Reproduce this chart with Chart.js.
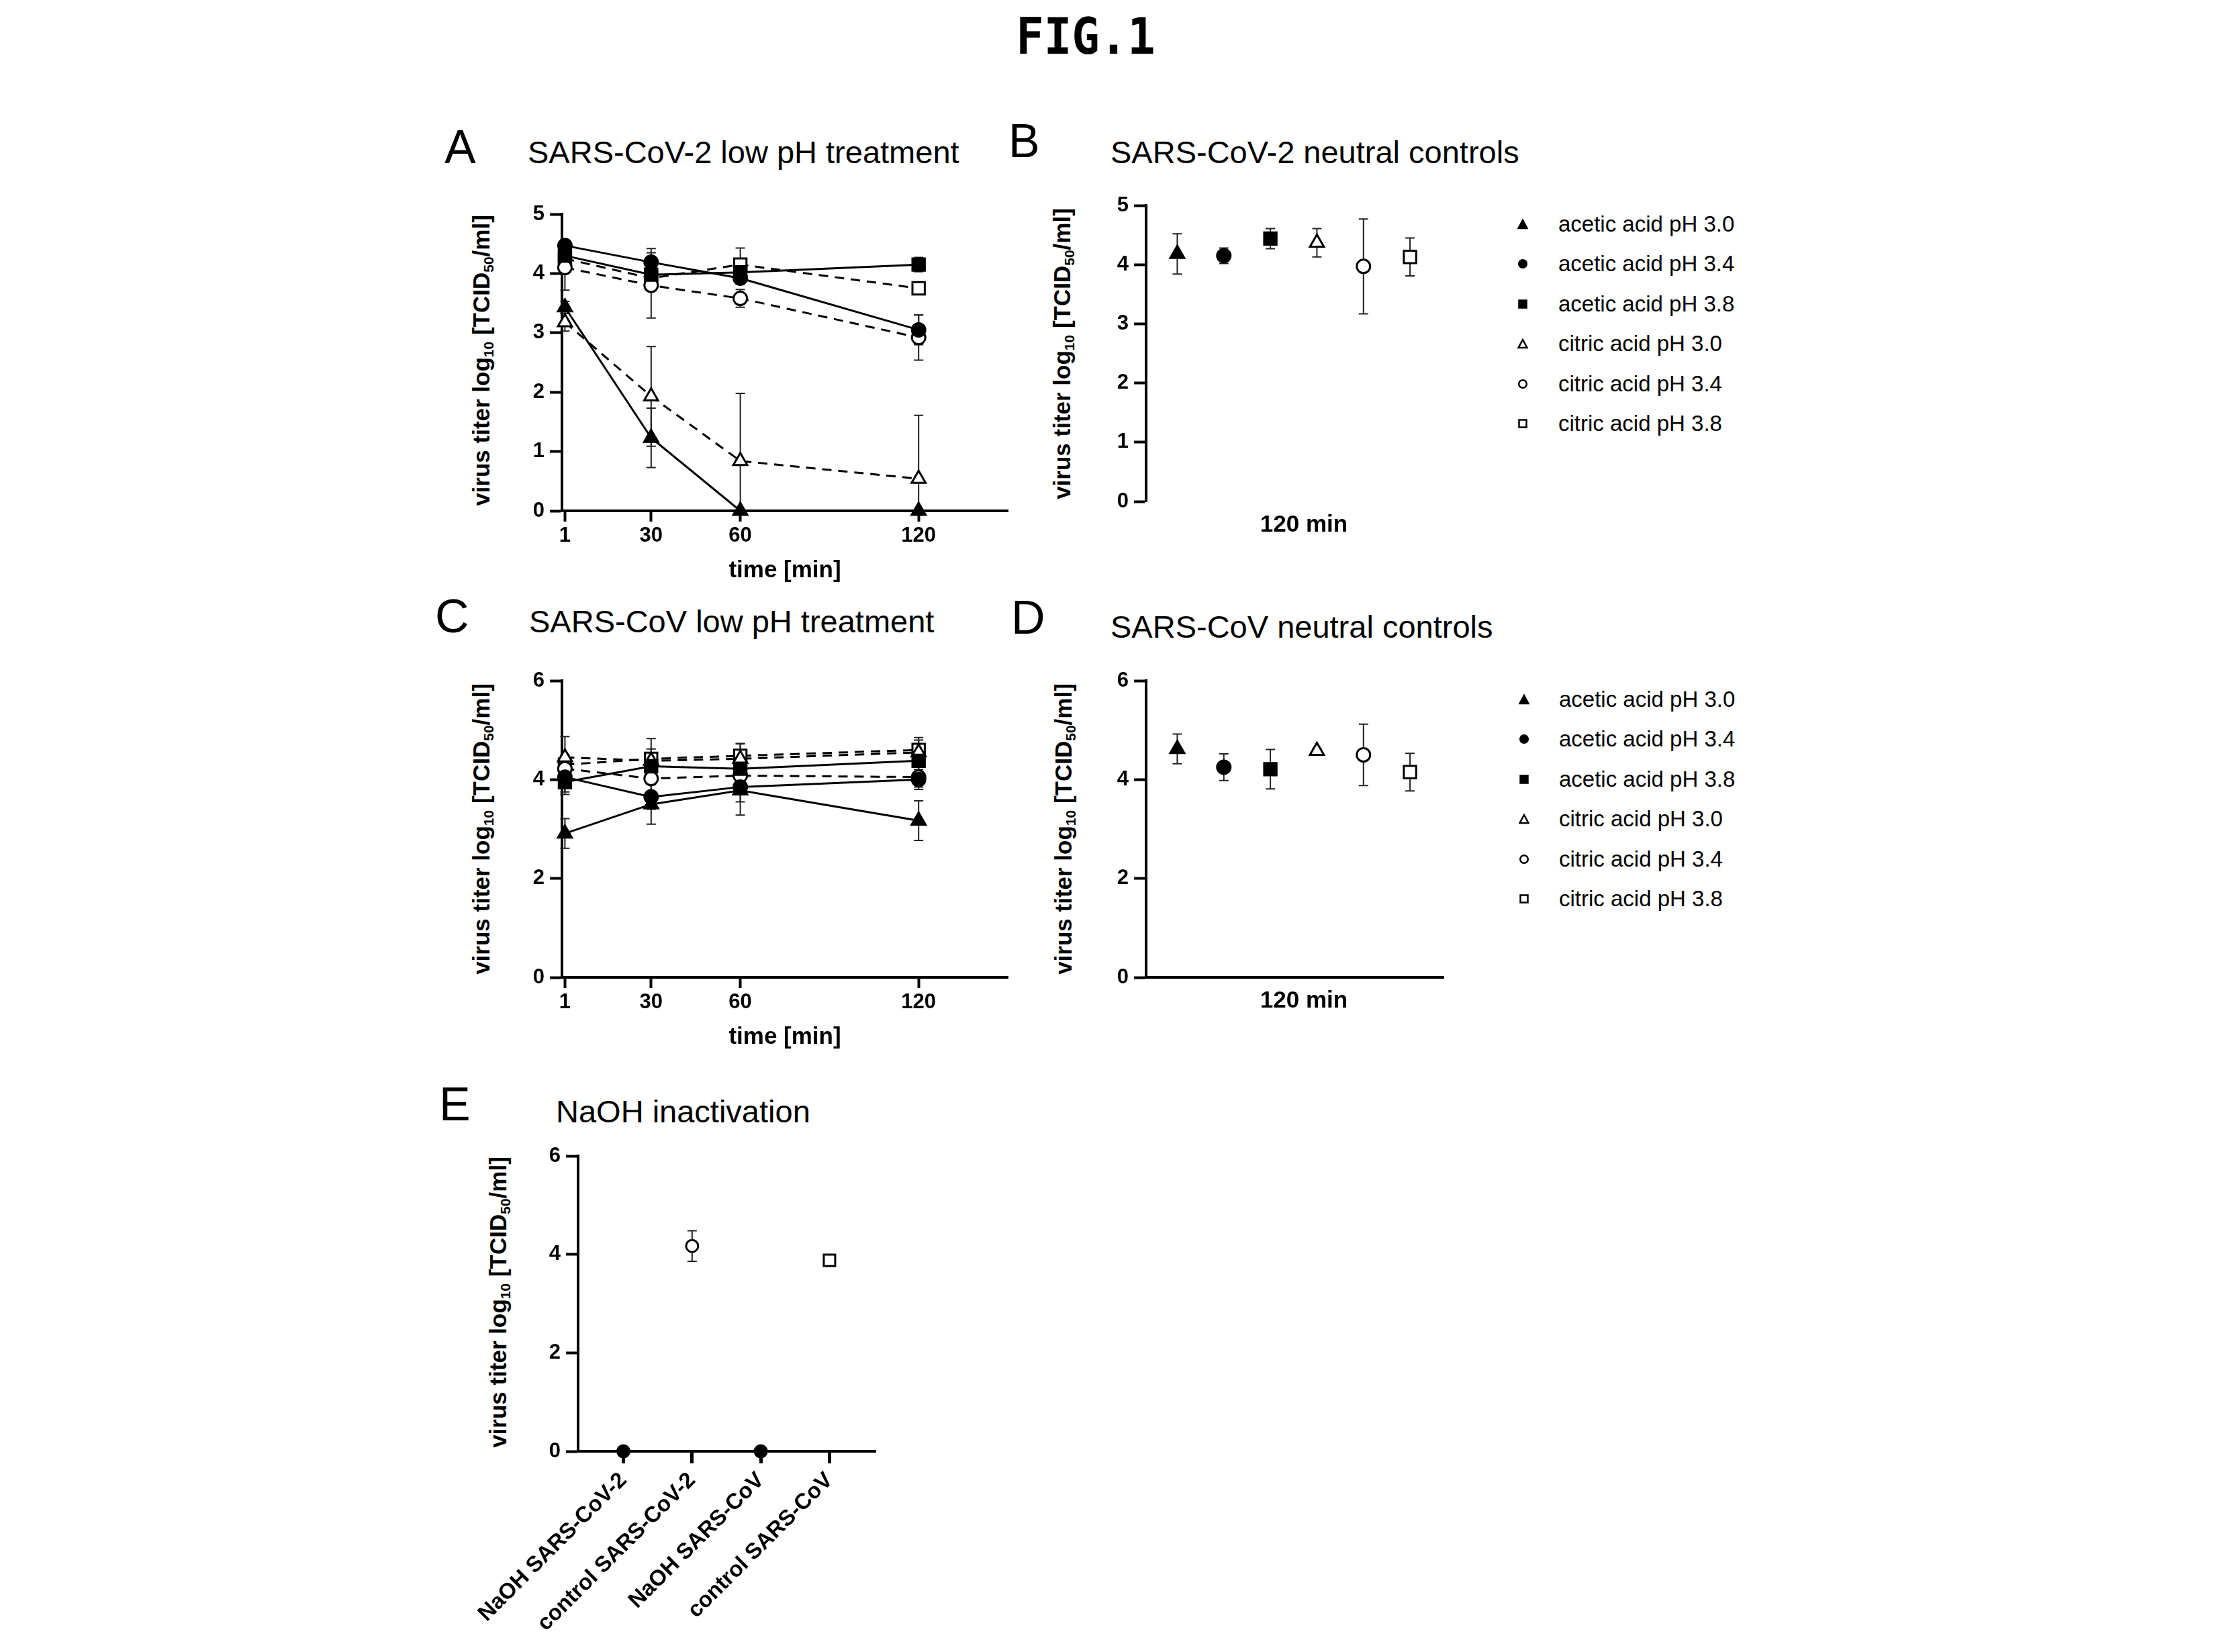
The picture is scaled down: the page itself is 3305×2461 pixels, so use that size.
<!DOCTYPE html>
<html><head><meta charset="utf-8">
<script src="https://cdn.jsdelivr.net/npm/chart.js@4.4.1/dist/chart.umd.min.js"></script>
<style>
html,body{margin:0;padding:0;background:#fff;}
body{width:3305px;height:2461px;position:relative;overflow:hidden;font-family:"Liberation Sans",Arial,sans-serif;color:#000;}
.t{position:absolute;white-space:nowrap;line-height:1;}
.letter{font-size:70px;}
.ttl{font-size:47px;}
.yt{position:absolute;white-space:nowrap;line-height:1;font-weight:bold;font-size:35px;transform:translate(-50%,-50%) rotate(-90deg);}
.sb{font-size:0.6em;position:relative;top:0.28em;}
.lg{position:absolute;white-space:nowrap;font-size:33px;line-height:40px;}
canvas{position:absolute;}
</style></head><body>
<div class="t" style="left:1617px;top:17px;font-family:'DejaVu Sans Mono',monospace;font-weight:bold;font-size:75px;transform:translateX(-50%) scaleX(0.92);">FIG.1</div>

<div class="t letter" style="left:662px;top:184px;">A</div>
<div class="t ttl" style="left:786px;top:203px;">SARS-CoV-2 low pH treatment</div>
<div class="t letter" style="left:1502px;top:175px;">B</div>
<div class="t ttl" style="left:1654px;top:203px;">SARS-CoV-2 neutral controls</div>
<div class="t letter" style="left:648px;top:883px;">C</div>
<div class="t ttl" style="left:788px;top:902px;">SARS-CoV low pH treatment</div>
<div class="t letter" style="left:1506px;top:885px;">D</div>
<div class="t ttl" style="left:1654px;top:910px;">SARS-CoV neutral controls</div>
<div class="t letter" style="left:654px;top:1610px;">E</div>
<div class="t ttl" style="left:828px;top:1632px;">NaOH inactivation</div>

<div class="yt" style="left:716px;top:537px;">virus titer log<span class="sb">10</span> [TCID<span class="sb">50</span>/ml]</div>
<div class="yt" style="left:1581px;top:527px;">virus titer log<span class="sb">10</span> [TCID<span class="sb">50</span>/ml]</div>
<div class="yt" style="left:716px;top:1235px;">virus titer log<span class="sb">10</span> [TCID<span class="sb">50</span>/ml]</div>
<div class="yt" style="left:1583px;top:1235px;">virus titer log<span class="sb">10</span> [TCID<span class="sb">50</span>/ml]</div>
<div class="yt" style="left:741px;top:1940px;">virus titer log<span class="sb">10</span> [TCID<span class="sb">50</span>/ml]</div>

<script>
// ---------------- DATA ----------------
const timePoints = [1, 30, 60, 120];
const seriesNames = ['acetic acid pH 3.0','acetic acid pH 3.4','acetic acid pH 3.8','citric acid pH 3.0','citric acid pH 3.4','citric acid pH 3.8'];

// Panel A: SARS-CoV-2 low pH treatment (mean, SD)
const cov2Acetic30 = [3.43, 1.23, 0, 0];
const cov2Acetic30Err = [0.1, 0.5, 0, 0];
const cov2Acetic34 = [4.47, 4.19, 3.92, 3.05];
const cov2Acetic34Err = [0.1, 0.23, 0.1, 0.25];
const cov2Acetic38 = [4.30, 3.98, 4.02, 4.15];
const cov2Acetic38Err = [0.15, 0.1, 0.1, 0.12];
const cov2Citric30 = [3.18, 1.93, 0.84, 0.54];
const cov2Citric30Err = [0.15, 0.84, 1.14, 1.07];
const cov2Citric34 = [4.10, 3.80, 3.58, 2.92];
const cov2Citric34Err = [0.38, 0.55, 0.15, 0.38];
const cov2Citric38 = [4.25, 3.92, 4.15, 3.75];
const cov2Citric38Err = [0.15, 0.1, 0.28, 0.1];

// Panel B: SARS-CoV-2 neutral controls at 120 min
const cov2Controls = [4.18, 4.15, 4.44, 4.37, 3.97, 4.13];
const cov2ControlsErr = [0.34, 0.13, 0.17, 0.24, 0.8, 0.32];

// Panel C: SARS-CoV low pH treatment
const covAcetic30 = [2.91, 3.50, 3.78, 3.17];
const covAcetic30Err = [0.3, 0.4, 0.5, 0.4];
const covAcetic34 = [4.05, 3.65, 3.85, 4.00];
const covAcetic34Err = [0.35, 0.25, 0.3, 0.2];
const covAcetic38 = [3.95, 4.27, 4.22, 4.38];
const covAcetic38Err = [0.2, 0.2, 0.25, 0.3];
const covCitric30 = [4.45, 4.38, 4.42, 4.55];
const covCitric30Err = [0.42, 0.45, 0.3, 0.3];
const covCitric34 = [4.22, 4.02, 4.08, 4.05];
const covCitric34Err = [0.2, 0.3, 0.2, 0.2];
const covCitric38 = [4.30, 4.42, 4.48, 4.60];
const covCitric38Err = [0.2, 0.2, 0.25, 0.2];

// Panel D: SARS-CoV neutral controls at 120 min
const covControls = [4.62, 4.25, 4.21, 4.58, 4.50, 4.15];
const covControlsErr = [0.3, 0.27, 0.4, 0.05, 0.62, 0.38];

// Panel E: NaOH inactivation
const naohCategories = ['NaOH SARS-CoV-2','control SARS-CoV-2','NaOH SARS-CoV','control SARS-CoV'];
const naohValues = [0, 4.17, 0, 3.88];
const naohErr = [0, 0.31, 0, 0.04];

// ---------------- STYLE / LAYOUT ----------------
const FONT = "'Liberation Sans', Arial, sans-serif";
Chart.defaults.font.family = FONT;
Chart.defaults.color = '#000';
const seriesStyles = [
  {shape:'triangle', filled:true,  dashed:false},
  {shape:'circle',   filled:true,  dashed:false},
  {shape:'rect',     filled:true,  dashed:false},
  {shape:'triangle', filled:false, dashed:true},
  {shape:'circle',   filled:false, dashed:true},
  {shape:'rect',     filled:false, dashed:true}
];
const markerRadius = {triangle:12, circle:10, rect:13};
const naohShapes = ['circle','circle','circle','rect'];
const naohFilled = [true, false, true, false];
const naohRadius = {circle:9, rect:12};

const PAD = {l:200, t:40, r:40, b:10};
const areaA = {l:837, t:319, r:1501, b:761, yW:80, xH:140};
const areaC = {l:837, t:1014, r:1501, b:1456, yW:80, xH:140};
const areaB = {l:1707, t:306, r:2150, b:747, yW:80, xH:80};
const areaD = {l:1707, t:1014, r:2150, b:1456, yW:80, xH:80};
const areaE = {l:861, t:1722, r:1304, b:2162, yW:80, xH:300};
const legendB = {mx:2268, tx:2321, rows:[334, 393, 453, 512, 572, 631]};
const legendD = {mx:2270, tx:2322, rows:[1042, 1101, 1161, 1220, 1280, 1339]};

function mount(a) {
  const c = document.createElement('canvas');
  const left = a.l - a.yW - PAD.l, top = a.t - PAD.t;
  const w = a.r + PAD.r - left, h = a.b + a.xH + PAD.b - top;
  c.width = w; c.height = h;
  c.style.left = left + 'px'; c.style.top = top + 'px';
  c.style.width = w + 'px'; c.style.height = h + 'px';
  document.body.appendChild(c);
  return c;
}

const errorBars = {
  id: 'errorBars',
  beforeDatasetsDraw(chart) {
    const ctx = chart.ctx, ys = chart.scales.y;
    chart.data.datasets.forEach((ds, di) => {
      if (!ds.errors) return;
      const meta = chart.getDatasetMeta(di);
      meta.data.forEach((pt, i) => {
        const e = ds.errors[i];
        if (!e) return;
        const v = ds.data[i].y;
        const x = pt.x;
        const y1 = ys.getPixelForValue(v + e), y2 = ys.getPixelForValue(Math.max(0, v - e));
        ctx.save();
        ctx.strokeStyle = '#222'; ctx.lineWidth = 2;
        ctx.beginPath();
        ctx.moveTo(x, y1); ctx.lineTo(x, y2);
        ctx.moveTo(x - 7, y1); ctx.lineTo(x + 7, y1);
        ctx.moveTo(x - 7, y2); ctx.lineTo(x + 7, y2);
        ctx.stroke();
        ctx.restore();
      });
    });
  }
};

function yAxis(a, max, step) {
  return {
    type:'linear', position:'left', min:0, max:max,
    ticks:{stepSize:step, color:'#000', font:{size:31, weight:'bold'}, padding:8},
    grid:{drawOnChartArea:false, drawTicks:true, tickLength:18, tickWidth:4, tickColor:'#000'},
    border:{display:true, color:'#000', width:4},
    afterFit(s){ s.width = a.yW; }
  };
}

function timeAxis(a) {
  return {
    type:'linear', position:'bottom', min:0, max:150,
    afterBuildTicks(s){ s.ticks = timePoints.map(v => ({value:v})); },
    ticks:{color:'#000', font:{size:31, weight:'bold'}, padding:3, autoSkip:false, maxRotation:0},
    grid:{drawOnChartArea:false, drawTicks:true, tickLength:16, tickWidth:4, tickColor:'#000'},
    border:{display:true, color:'#000', width:4},
    title:{display:true, text:'time [min]', color:'#000', font:{size:35, weight:'bold'}, padding:{top:0, bottom:30}},
    afterFit(s){ s.height = a.xH; }
  };
}

function controlAxis(a, showLine) {
  return {
    type:'linear', position:'bottom', min:0.33, max:6.72,
    afterBuildTicks(s){ s.ticks = [{value:3.72}]; },
    ticks:{color:'#000', font:{size:35, weight:'bold'}, padding:14, autoSkip:false, maxRotation:0, callback:() => '120 min'},
    grid:{display:false, drawOnChartArea:false, drawTicks:false},
    border:{display:showLine, color:'#000', width:4},
    afterFit(s){ s.height = a.xH; }
  };
}

function pointOpts(st) {
  return {
    pointStyle: st.shape, pointRadius: markerRadius[st.shape], pointHoverRadius: markerRadius[st.shape],
    pointBackgroundColor: st.filled ? '#000' : '#fff', pointBorderColor:'#000', pointBorderWidth:3
  };
}

function lineSets(vals, errs) {
  return seriesNames.map((name, i) => Object.assign({
    label:name,
    data: timePoints.map((t, j) => ({x:t, y:vals[i][j]})),
    errors: errs[i],
    showLine:true, borderColor:'#000', borderWidth:3,
    borderDash: seriesStyles[i].dashed ? [14, 10] : [],
    clip:false
  }, pointOpts(seriesStyles[i])));
}

function dotSets(vals, errs) {
  return seriesNames.map((name, i) => Object.assign({
    label:name,
    data:[{x:i + 1, y:vals[i]}],
    errors:[errs[i]],
    showLine:false, clip:false
  }, pointOpts(seriesStyles[i])));
}

function baseOptions(scales) {
  return {
    responsive:false, animation:false, events:[],
    layout:{padding:{left:PAD.l, top:PAD.t, right:PAD.r, bottom:PAD.b}},
    plugins:{legend:{display:false}, tooltip:{enabled:false}},
    scales: scales
  };
}

// Panel A
new Chart(mount(areaA), {
  type:'scatter',
  data:{datasets: lineSets(
    [cov2Acetic30, cov2Acetic34, cov2Acetic38, cov2Citric30, cov2Citric34, cov2Citric38],
    [cov2Acetic30Err, cov2Acetic34Err, cov2Acetic38Err, cov2Citric30Err, cov2Citric34Err, cov2Citric38Err])},
  options: baseOptions({x: timeAxis(areaA), y: yAxis(areaA, 5, 1)}),
  plugins:[errorBars]
});

// Panel C
new Chart(mount(areaC), {
  type:'scatter',
  data:{datasets: lineSets(
    [covAcetic30, covAcetic34, covAcetic38, covCitric30, covCitric34, covCitric38],
    [covAcetic30Err, covAcetic34Err, covAcetic38Err, covCitric30Err, covCitric34Err, covCitric38Err])},
  options: baseOptions({x: timeAxis(areaC), y: yAxis(areaC, 6, 2)}),
  plugins:[errorBars]
});

// Panel B
new Chart(mount(areaB), {
  type:'scatter',
  data:{datasets: dotSets(cov2Controls, cov2ControlsErr)},
  options: baseOptions({x: controlAxis(areaB, false), y: yAxis(areaB, 5, 1)}),
  plugins:[errorBars]
});

// Panel D
new Chart(mount(areaD), {
  type:'scatter',
  data:{datasets: dotSets(covControls, covControlsErr)},
  options: baseOptions({x: controlAxis(areaD, true), y: yAxis(areaD, 6, 2)}),
  plugins:[errorBars]
});

// Panel E
new Chart(mount(areaE), {
  type:'scatter',
  data:{datasets:[{
    label:'NaOH inactivation',
    data: naohValues.map((v, i) => ({x:i, y:v})),
    errors: naohErr,
    showLine:false, clip:false,
    pointStyle: naohShapes,
    pointRadius: naohShapes.map(s => naohRadius[s]),
    pointHoverRadius: naohShapes.map(s => naohRadius[s]),
    pointBackgroundColor: naohFilled.map(f => f ? '#000' : '#fff'),
    pointBorderColor:'#000', pointBorderWidth:3
  }]},
  options: baseOptions({
    x:{
      type:'linear', position:'bottom', min:-0.66, max:3.67,
      afterBuildTicks(s){ s.ticks = naohCategories.map((c, i) => ({value:i})); },
      ticks:{color:'#000', font:{size:33, weight:'bold'}, padding:6, autoSkip:false, minRotation:45, maxRotation:45,
             callback:(v) => naohCategories[v]},
      grid:{drawOnChartArea:false, drawTicks:true, tickLength:18, tickWidth:5, tickColor:'#000'},
      border:{display:true, color:'#000', width:4},
      afterFit(s){ s.height = areaE.xH; }
    },
    y: yAxis(areaE, 6, 2)
  }),
  plugins:[errorBars]
});

// Legends (HTML)
function markerSVG(st) {
  const fill = st.filled ? '#000' : '#fff';
  let shape;
  if (st.shape === 'triangle') shape = `<polygon points="8,2 14.5,14 1.5,14" fill="${fill}" stroke="#000" stroke-width="2.5"/>`;
  else if (st.shape === 'circle') shape = `<circle cx="8" cy="8" r="5.8" fill="${fill}" stroke="#000" stroke-width="2.5"/>`;
  else shape = `<rect x="2.5" y="2.5" width="11" height="11" fill="${fill}" stroke="#000" stroke-width="2.5"/>`;
  return `<svg width="16" height="16" viewBox="0 0 16 16">${shape}</svg>`;
}
function buildLegend(L) {
  seriesNames.forEach((name, i) => {
    const m = document.createElement('div');
    m.style.position = 'absolute';
    m.style.left = (L.mx - 8) + 'px'; m.style.top = (L.rows[i] - 8) + 'px';
    m.style.width = '16px'; m.style.height = '16px'; m.style.lineHeight = '0';
    m.innerHTML = markerSVG(seriesStyles[i]);
    document.body.appendChild(m);
    const t = document.createElement('div');
    t.className = 'lg';
    t.style.left = L.tx + 'px'; t.style.top = (L.rows[i] - 20) + 'px';
    t.textContent = name;
    document.body.appendChild(t);
  });
}
buildLegend(legendB);
buildLegend(legendD);
</script>
</body></html>
